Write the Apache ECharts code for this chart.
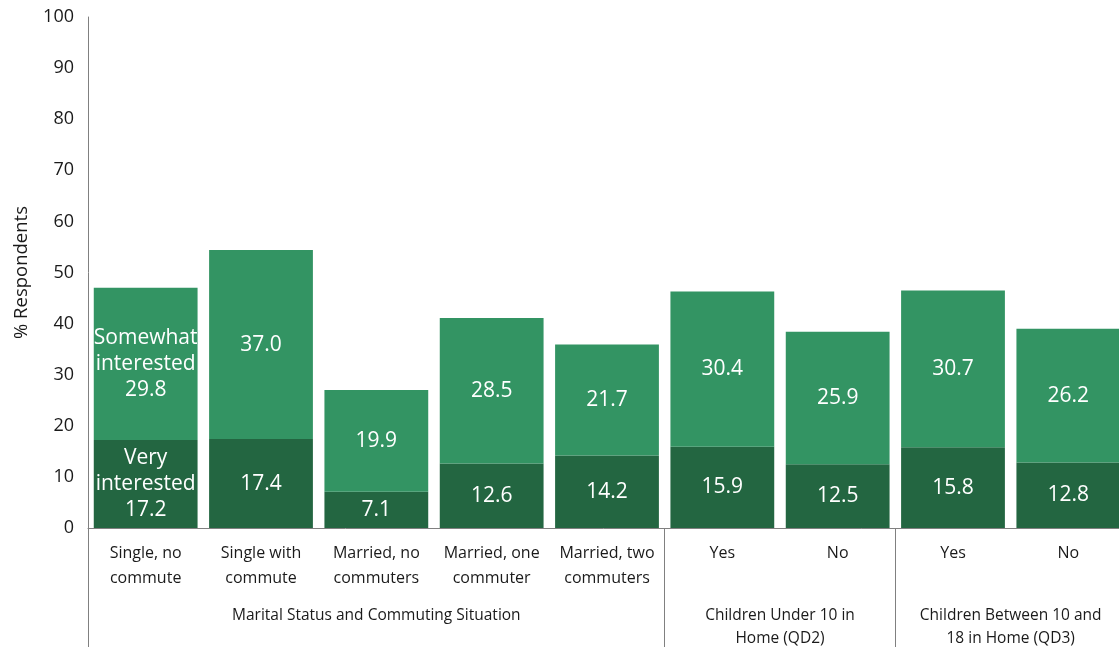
<!DOCTYPE html>
<html>
<head>
<meta charset="utf-8">
<script src="https://cdn.jsdelivr.net/npm/echarts@6/dist/echarts.min.js"></script>
<style>
  html, body { margin: 0; padding: 0; background: #ffffff; }
  #chart { width: 1119px; height: 647px; }
</style>
</head>
<body>
<div id="chart"></div>
<script>
// Interest in the service, by household situation
const categories = [
  'Single, no\ncommute', 'Single with\ncommute', 'Married, no\ncommuters',
  'Married, one\ncommuter', 'Married, two\ncommuters', 'Yes', 'No', 'Yes', 'No'
];
const veryInterested = [17.2, 17.4, 7.1, 12.6, 14.2, 15.9, 12.5, 15.8, 12.8];
const somewhatInterested = [29.8, 37.0, 19.9, 28.5, 21.7, 30.4, 25.9, 30.7, 26.2];
const yTicks = [0, 10, 20, 30, 40, 50, 60, 70, 80, 90, 100];

// Category groups: first category index and number of categories in each
const groups = [
  { name: 'Marital Status and Commuting Situation', start: 0, size: 5 },
  { name: 'Children Under 10 in\nHome (QD2)', start: 5, size: 2 },
  { name: 'Children Between 10 and\n18 in Home (QD3)', start: 7, size: 2 }
];

const FONT = '"Open Sans", "DejaVu Sans", sans-serif';
const AXIS_GREY = '#808080';
const TEXT = '#1a1a1a';
const groupStarts = groups.map(g => g.start);

// Group titles sit on a half-category value scale, centred under each group
const groupLabelAt = {};
groups.forEach(g => { groupLabelAt[g.start * 2 + g.size] = g.name; });

const chart = echarts.init(document.getElementById('chart'), null, { renderer: 'canvas' });

function segLabel(prefix) {
  return {
    show: true,
    position: 'inside',
    color: '#ffffff',
    fontFamily: FONT,
    fontSize: 21,
    lineHeight: 26,
    formatter: p => (p.dataIndex === 0 ? prefix : '') + p.value.toFixed(1)
  };
}

chart.setOption({
  animation: false,
  textStyle: { fontFamily: FONT },
  // the plot runs a few pixels past the right edge of the page
  grid: {
    left: 88, right: -7, top: 17, bottom: 119,
    containLabel: false,
    outerBoundsMode: 'none'
  },
  xAxis: [
    {
      type: 'category',
      data: categories,
      position: 'bottom',
      axisLine: { show: true, lineStyle: { color: AXIS_GREY, width: 1 } },
      axisTick: {
        show: true,
        interval: (i) => groupStarts.includes(i),
        length: 119,
        lineStyle: { color: AXIS_GREY, width: 1 }
      },
      axisLabel: {
        interval: 0,
        margin: 13,
        color: TEXT,
        fontFamily: FONT,
        fontSize: 16,
        lineHeight: 25
      },
      splitLine: { show: false }
    },
    {
      type: 'value',
      position: 'bottom',
      offset: 60,
      min: 0,
      max: categories.length * 2,
      interval: 1,
      axisLine: { show: false },
      axisTick: { show: false },
      splitLine: { show: false },
      axisLabel: {
        margin: 16,
        hideOverlap: false,
        showMinLabel: true,
        showMaxLabel: true,
        color: TEXT,
        fontFamily: FONT,
        fontSize: 15.5,
        lineHeight: 23,
        formatter: v => groupLabelAt[v] || ''
      }
    }
  ],
  yAxis: {
    type: 'value',
    min: 0,
    max: 100,
    interval: 10,
    name: '% Respondents',
    nameLocation: 'middle',
    nameGap: 57,
    nameRotate: 90,
    nameTextStyle: { color: TEXT, fontFamily: FONT, fontSize: 18.5 },
    axisLine: { show: true, lineStyle: { color: AXIS_GREY, width: 1 } },
    axisTick: { show: false },
    splitLine: { show: false },
    axisLabel: {
      margin: 14,
      color: TEXT,
      fontFamily: FONT,
      fontSize: 18,
      formatter: v => (yTicks.includes(v) ? String(v) : '')
    }
  },
  series: [
    {
      name: 'Very interested',
      type: 'bar',
      stack: 'interest',
      xAxisIndex: 0,
      barCategoryGap: '10%',
      data: veryInterested,
      itemStyle: { color: '#236641' },
      label: segLabel('Very\ninterested\n')
    },
    {
      name: 'Somewhat interested',
      type: 'bar',
      stack: 'interest',
      xAxisIndex: 0,
      barCategoryGap: '10%',
      data: somewhatInterested,
      itemStyle: { color: '#339463' },
      label: segLabel('Somewhat\ninterested\n')
    }
  ]
});
</script>
</body>
</html>
